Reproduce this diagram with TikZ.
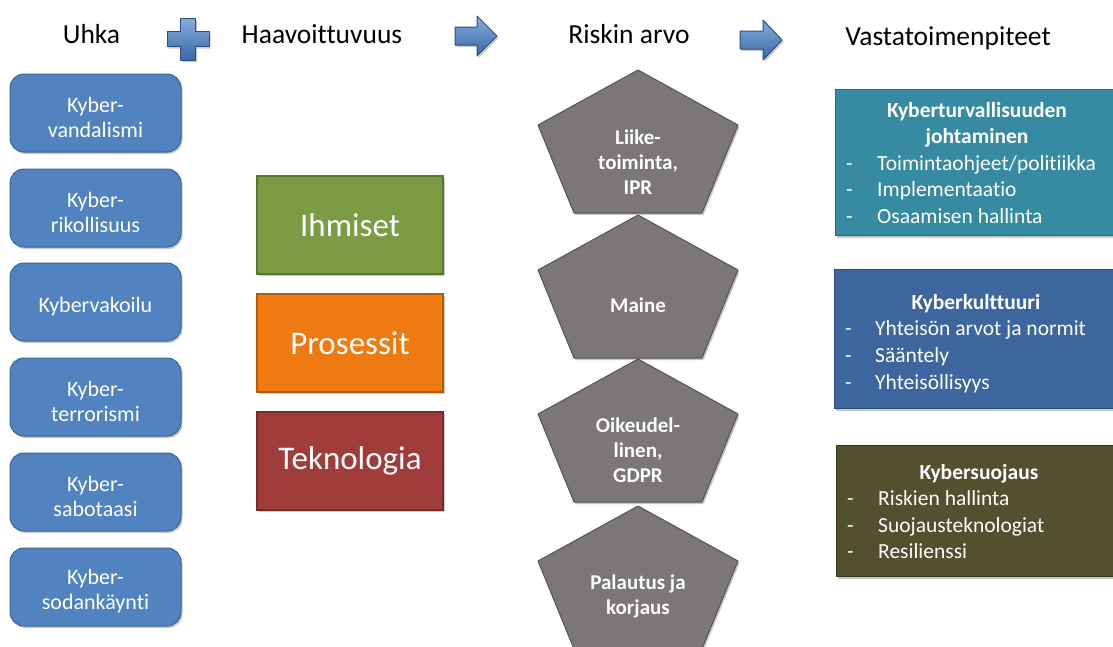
\documentclass[tikz,border=0pt]{standalone}
\usepackage{fontspec}
\setmainfont{Carlito}[Ligatures=NoCommon]
\usetikzlibrary{shadows}

\definecolor{threatfill}{HTML}{5283C1}
\definecolor{threatedge}{HTML}{3B6394}
\definecolor{peoplefill}{HTML}{7C9C43}
\definecolor{peopleedge}{HTML}{5B7430}
\definecolor{procfill}{HTML}{F07A12}
\definecolor{procedge}{HTML}{B65B0A}
\definecolor{techfill}{HTML}{A03D3B}
\definecolor{techedge}{HTML}{772C2A}
\definecolor{riskfill}{HTML}{7A7776}
\definecolor{riskedge}{HTML}{575453}
\definecolor{govfill}{HTML}{368BA2}
\definecolor{govedge}{HTML}{276A7C}
\definecolor{culturefill}{HTML}{3D659E}
\definecolor{cultureedge}{HTML}{2C4C78}
\definecolor{protectfill}{HTML}{52502F}
\definecolor{protectedge}{HTML}{3A3920}
\definecolor{icontop}{HTML}{86ACDC}
\definecolor{iconbottom}{HTML}{3A68A3}
\definecolor{iconedge}{HTML}{2B5080}

% tall strut that lowers the first line of a threat label a little
\newcommand{\threatstrut}{\rule{0pt}{24pt}}

\begin{document}
\begin{tikzpicture}[x=1pt,y=-1pt,
  softshadow/.style={drop shadow={shadow xshift=1.5pt,shadow yshift=-2pt,opacity=0.3,fill=black!70}},
  header/.style={anchor=base,font=\fontsize{27.5}{32}\selectfont,inner sep=0pt},
  threatbox/.style={draw=threatedge,fill=threatfill,line width=1pt,rounded corners=14pt,
    minimum width=171pt,minimum height=78pt,inner sep=0pt,text=white,align=center,
    font=\fontsize{22}{25}\selectfont,softshadow},
  vulnbox/.style={line width=1.2pt,minimum width=186pt,minimum height=98pt,inner sep=0pt,
    text=white,font=\fontsize{33}{38}\selectfont,softshadow},
  pentshape/.style={draw=riskedge,fill=riskfill,line width=1pt,line join=round,softshadow},
  penttext/.style={text=white,align=center,inner sep=0pt,
    font=\bfseries\fontsize{21}{25}\selectfont},
  measurebox/.style={anchor=north west,line width=1.2pt,minimum width=290pt,inner sep=0pt,softshadow},
  mtitle/.style={anchor=base,text=white,inner sep=0pt,font=\bfseries\fontsize{21.5}{25}\selectfont},
  mdash/.style={anchor=base west,text=white,inner sep=0pt,font=\fontsize{21.5}{25}\selectfont},
  mitem/.style={anchor=base west,text=white,inner sep=0pt,font=\fontsize{21.5}{25}\selectfont},
  icon/.style={top color=icontop,bottom color=iconbottom,draw=iconedge,line width=1pt,line join=round,softshadow}
]
\useasboundingbox (0,0) rectangle (1113,646);
\clip (0,0) rectangle (1113,646);

% column headings
\node[header] (hThreat) at (91.5,43) {Uhka};
\node[header] (hVuln) at (322,43) {Haavoittuvuus};
\node[header] (hRisk) at (629,43) {Riskin arvo};
\node[header] (hMeasures) at (948,45) {Vastatoimenpiteet};

% plus sign and block arrows between the headings
\path[icon] (180.5,18) -- (195.5,18) -- (195.5,31.5) -- (209,31.5) -- (209,46.5)
  -- (195.5,46.5) -- (195.5,60) -- (180.5,60) -- (180.5,46.5) -- (167,46.5)
  -- (167,31.5) -- (180.5,31.5) -- cycle;
\path[icon] (455,27) -- (477,27) -- (477,16) -- (497,36) -- (477,56) -- (477,45) -- (455,45) -- cycle;
\path[icon] (740,31) -- (763,31) -- (763,20) -- (782,40) -- (763,60) -- (763,49) -- (740,49) -- cycle;

% threats
\node[threatbox] (t1) at (95.5,113) {\threatstrut Kyber-\\vandalismi};
\node[threatbox] (t2) at (95.5,208) {\threatstrut Kyber-\\rikollisuus};
\node[threatbox] (t3) at (95.5,302) {\threatstrut Kybervakoilu};
\node[threatbox] (t4) at (95.5,397) {\threatstrut Kyber-\\terrorismi};
\node[threatbox] (t5) at (95.5,492) {\threatstrut Kyber-\\sabotaasi};
\node[threatbox] (t6) at (95.5,587) {\threatstrut Kyber-\\sodankäynti};

% vulnerabilities
\node[vulnbox,fill=peoplefill,draw=peopleedge] (v1) at (350,225) {Ihmiset};
\node[vulnbox,fill=procfill,draw=procedge] (v2) at (350,343) {Prosessit};
\node[vulnbox,fill=techfill,draw=techedge] (v3) at (350,461) {Teknologia};

% risk value pentagons
\foreach \top in {70,215,359,506}{
  \path[pentshape] (638,\top) -- ++(100,55) -- ++(-36,88) -- ++(-128,0) -- ++(-36,-88) -- cycle;
}
\node[penttext] (r1) at (638,162) {Liike-\\toiminta,\\IPR};
\node[penttext] (r2) at (638,305) {Maine};
\node[penttext] (r3) at (638,450) {Oikeudel-\\linen,\\GDPR};
\node[penttext] (r4) at (638,596) {Palautus ja\\korjaus};

% countermeasures
\node[measurebox,fill=govfill,draw=govedge,minimum height=146pt] (m1) at (835,89) {};
\node[measurebox,fill=culturefill,draw=cultureedge,minimum height=139pt] (m2) at (834,269) {};
\node[measurebox,fill=protectfill,draw=protectedge,minimum height=131pt] (m3) at (836,445) {};

\node[mtitle] (m1a) at (977,117) {Kyberturvallisuuden};
\node[mtitle] (m1b) at (977,143.5) {johtaminen};
\node[mdash] (m1d1) at (846,170) {-};
\node[mitem] (m1i1) at (877,170) {Toimintaohjeet/politiikka};
\node[mdash] (m1d2) at (846,196.5) {-};
\node[mitem] (m1i2) at (877,196.5) {Implementaatio};
\node[mdash] (m1d3) at (846,223) {-};
\node[mitem] (m1i3) at (877,223) {Osaamisen hallinta};

\node[mtitle] (m2a) at (976,309) {Kyberkulttuuri};
\node[mdash] (m2d1) at (845,335.5) {-};
\node[mitem] (m2i1) at (875,335.5) {Yhteisön arvot ja normit};
\node[mdash] (m2d2) at (845,362) {-};
\node[mitem] (m2i2) at (875,362) {Sääntely};
\node[mdash] (m2d3) at (845,389) {-};
\node[mitem] (m2i3) at (875,389) {Yhteisöllisyys};

\node[mtitle] (m3a) at (979,479) {Kybersuojaus};
\node[mdash] (m3d1) at (847,505.5) {-};
\node[mitem] (m3i1) at (878,505.5) {Riskien hallinta};
\node[mdash] (m3d2) at (847,532) {-};
\node[mitem] (m3i2) at (878,532) {Suojausteknologiat};
\node[mdash] (m3d3) at (847,558.5) {-};
\node[mitem] (m3i3) at (878,558.5) {Resilienssi};
\end{tikzpicture}
\end{document}
